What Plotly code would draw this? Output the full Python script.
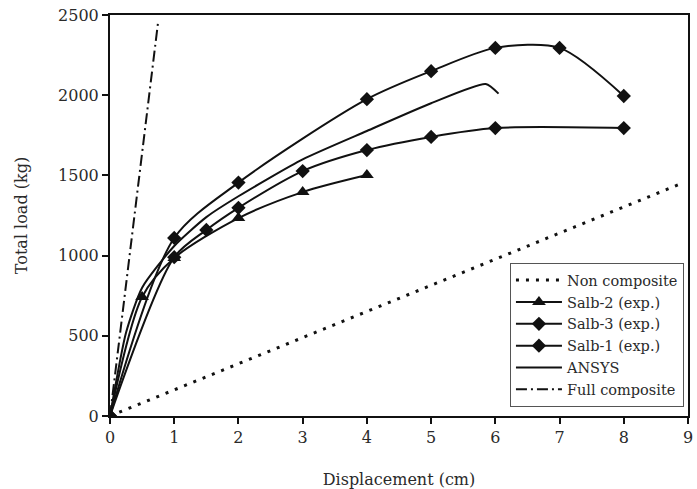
import plotly.graph_objects as go

# Non composite (dotted)
nc_x = [0, 8.9]
nc_y = [0, 1450]
# Salb-2 (exp.) triangles
s2_x = [0, 0.5, 1, 2, 3, 4]
s2_y = [0, 742, 985, 1234, 1396, 1502]
# Salb-3 (exp.) diamonds (upper)
s3_x = [0, 1, 2, 4, 5, 6, 7, 8]
s3_y = [0, 1110, 1455, 1975, 2150, 2295, 2295, 1995]
# Salb-1 (exp.) diamonds (lower)
s1_x = [0, 1, 1.5, 2, 3, 4, 5, 6, 8]
s1_y = [0, 990, 1160, 1298, 1527, 1658, 1740, 1795, 1795]
# ANSYS
an_x = [0, 0.25, 0.5, 1, 1.5, 2, 3, 4, 5, 5.85, 6.05]
an_y = [0, 520, 800, 1060, 1240, 1370, 1600, 1777, 1950, 2070, 2010]
# Full composite (dash-dot)
fc_x = [0, 0.75]
fc_y = [0, 2460]

FONT = "DejaVu Serif"
BLACK = "#111111"
TXT = "#2a2a2a"

fig = go.Figure()
fig.add_trace(go.Scatter(x=nc_x, y=nc_y, mode="lines", name="Non composite",
                         line=dict(color=BLACK, width=3, dash="3px,7px")))
fig.add_trace(go.Scatter(x=s2_x, y=s2_y, mode="lines+markers", name="Salb-2 (exp.)",
                         line=dict(color=BLACK, width=2, shape="spline", smoothing=0.8),
                         marker=dict(symbol="triangle-up", size=12, color=BLACK)))
fig.add_trace(go.Scatter(x=s3_x, y=s3_y, mode="lines+markers", name="Salb-3 (exp.)",
                         line=dict(color=BLACK, width=2, shape="spline", smoothing=0.8),
                         marker=dict(symbol="diamond", size=11, color=BLACK)))
fig.add_trace(go.Scatter(x=s1_x, y=s1_y, mode="lines+markers", name="Salb-1 (exp.)",
                         line=dict(color=BLACK, width=2, shape="spline", smoothing=0.8),
                         marker=dict(symbol="diamond", size=11, color=BLACK)))
fig.add_trace(go.Scatter(x=an_x, y=an_y, mode="lines", name="ANSYS",
                         line=dict(color=BLACK, width=2, shape="spline", smoothing=0.6)))
fig.add_trace(go.Scatter(x=fc_x, y=fc_y, mode="lines", name="Full composite",
                         line=dict(color=BLACK, width=2, dash="11px,4px,2px,4px")))

axis_common = dict(showgrid=False, zeroline=False, showline=True, linecolor=BLACK,
                   linewidth=2, mirror=True, ticks="outside", ticklen=6,
                   tickwidth=2, tickcolor=BLACK, automargin=False,
                   tickfont=dict(family=FONT, size=16, color=TXT))

fig.update_xaxes(range=[0, 9], tickvals=list(range(10)), **axis_common,
                 title=dict(text="Displacement (cm)", font=dict(family=FONT, size=16, color=TXT),
                            standoff=28))
fig.update_yaxes(range=[0, 2500], tickvals=[0, 500, 1000, 1500, 2000, 2500], **axis_common,
                 title=dict(text="Total load (kg)", font=dict(family=FONT, size=16, color=TXT),
                            standoff=26))

fig.update_layout(
    width=697, height=489,
    margin=dict(l=110, r=9, t=15, b=73),
    plot_bgcolor="white", paper_bgcolor="white",
    font=dict(family=FONT, color=TXT),
    legend=dict(x=0.993, y=0.022, xanchor="right", yanchor="bottom",
                bgcolor="white", bordercolor="#555", borderwidth=1,
                font=dict(family=FONT, size=14.5, color=TXT),
                tracegroupgap=0, itemwidth=46),
)

fig.write_html("out.html")
